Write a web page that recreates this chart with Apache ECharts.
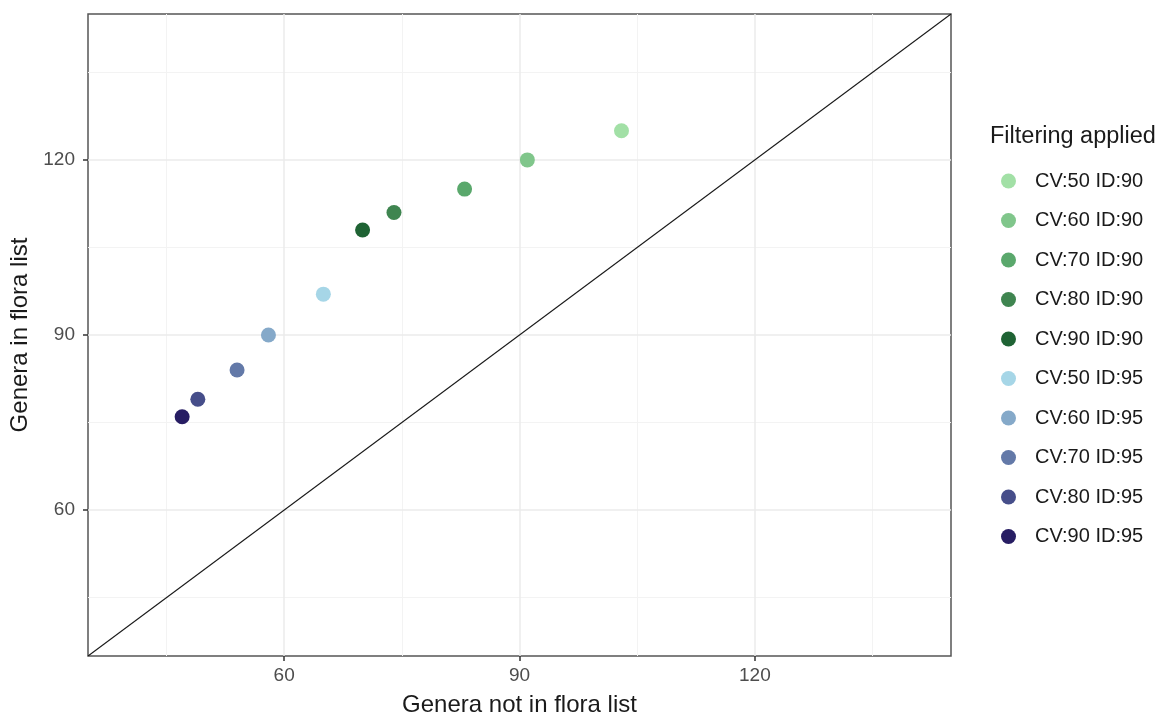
<!DOCTYPE html>
<html>
<head>
<meta charset="utf-8">
<script src="https://cdn.jsdelivr.net/npm/echarts@6/dist/echarts.min.js"></script>
<style>
  html, body { margin: 0; padding: 0; background: #fff; }
  #chart { width: 1162px; height: 722px; }
</style>
</head>
<body>
<div id="chart"></div>
<script>
// filtering settings (legend order)
var filterNames = ['CV:50 ID:90', 'CV:60 ID:90', 'CV:70 ID:90', 'CV:80 ID:90', 'CV:90 ID:90',
                   'CV:50 ID:95', 'CV:60 ID:95', 'CV:70 ID:95', 'CV:80 ID:95', 'CV:90 ID:95']
// genera not in flora list (x) / genera in flora list (y)
var notInFlora = [103, 91, 83, 74, 70, 65, 58, 54, 49, 47]
var inFlora    = [125, 120, 115, 111, 108, 97, 90, 84, 79, 76]
var pointColors = ['#a2e0a6', '#80c68b', '#5aa86c', '#3f8550', '#1f6334',
                   '#a6d6e7', '#85a9c9', '#6379a8', '#464e8a', '#271d63']
var majorTicks = [60, 90, 120]
var minorTicks = [45, 75, 105, 135]
var axisMin = 35, axisMax = 145

var chart = echarts.init(document.getElementById('chart'))

// panel grid lines (minor lighter than major)
var gridLines = []
minorTicks.forEach(function (v) {
  gridLines.push({xAxis: v, lineStyle: {color: '#f3f3f3', width: 1, type: 'solid'}})
  gridLines.push({yAxis: v, lineStyle: {color: '#f3f3f3', width: 1, type: 'solid'}})
})
majorTicks.forEach(function (v) {
  gridLines.push({xAxis: v, lineStyle: {color: '#ebebeb', width: 1.5, type: 'solid'}})
  gridLines.push({yAxis: v, lineStyle: {color: '#ebebeb', width: 1.5, type: 'solid'}})
})

var series = [{
  // 1:1 line
  name: 'diag',
  type: 'line',
  data: [[axisMin, axisMin], [axisMax, axisMax]],
  symbol: 'none',
  silent: true,
  z: 1,
  lineStyle: {color: '#1a1a1a', width: 1.1},
  markLine: {
    silent: true,
    symbol: 'none',
    label: {show: false},
    animation: false,
    z: 0,
    data: gridLines
  }
}]

filterNames.forEach(function (name, i) {
  series.push({
    name: name,
    type: 'scatter',
    data: [[notInFlora[i], inFlora[i]]],
    symbolSize: 15,
    z: 3,
    itemStyle: {color: pointColors[i], opacity: 1}
  })
})

var axisText = {color: '#4d4d4d', fontSize: 19, fontFamily: 'Liberation Sans'}

var opt = {
  animation: false,
  textStyle: {fontFamily: 'Liberation Sans'},
  title: {
    text: 'Filtering applied',
    left: 985, top: 120,
    textStyle: {fontSize: 23.5, fontWeight: 'normal', color: '#1a1a1a', fontFamily: 'Liberation Sans'}
  },
  legend: {
    data: filterNames,
    orient: 'vertical',
    left: 996, top: 166,
    icon: 'circle',
    itemWidth: 29, itemHeight: 15,
    itemGap: 19.5,
    textStyle: {fontSize: 20, lineHeight: 20, color: '#1a1a1a', fontFamily: 'Liberation Sans', padding: [0, 0, 0, 7]}
  },
  grid: {
    left: 88, right: 211, top: 14, bottom: 60,
    show: true, borderColor: '#555', borderWidth: 1.5, backgroundColor: 'transparent'
  },
  xAxis: {
    type: 'value',
    min: axisMin, max: axisMax,
    name: 'Genera not in flora list',
    nameLocation: 'middle', nameGap: 37,
    nameTextStyle: {fontSize: 24, color: '#1a1a1a', fontFamily: 'Liberation Sans'},
    axisLine: {show: false},
    axisTick: {show: true, customValues: majorTicks, length: 5, lineStyle: {color: '#333', width: 1.5}},
    axisLabel: {customValues: majorTicks, margin: 10, ...axisText},
    splitLine: {show: false}
  },
  yAxis: {
    type: 'value',
    min: axisMin, max: axisMax,
    name: 'Genera in flora list',
    nameLocation: 'middle', nameGap: 52,
    nameTextStyle: {fontSize: 24, color: '#1a1a1a', fontFamily: 'Liberation Sans'},
    axisLine: {show: false},
    axisTick: {show: true, customValues: majorTicks, length: 5, lineStyle: {color: '#333', width: 1.5}},
    axisLabel: {customValues: majorTicks, margin: 13, ...axisText},
    splitLine: {show: false}
  },
  series: series
}

chart.setOption(opt)
</script>
</body>
</html>
